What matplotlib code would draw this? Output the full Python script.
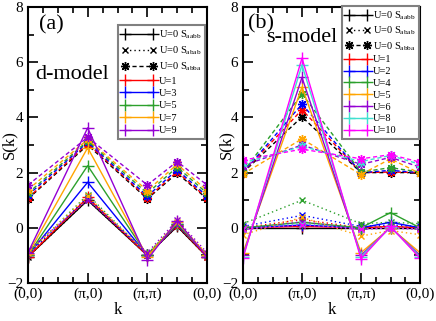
import matplotlib
matplotlib.use("Agg")
import matplotlib.pyplot as plt
from matplotlib.ticker import MultipleLocator

plt.rcParams['font.family'] = ['Liberation Serif', 'DejaVu Serif']
plt.rcParams['mathtext.fontset'] = 'custom'
plt.rcParams['mathtext.rm'] = 'Liberation Serif'

# ---------------- data ----------------
k_pos = [0, 1, 2, 2.5, 3]
k_ticks = [0, 1, 2, 3]
k_labels = ['(0,0)', '(π,0)', '(π,π)', '(0,0)']

# panel (a): d-model
a_U = [0, 1, 3, 5, 7, 9]
a_colors = ['black', '#ff0000', '#0000ff', '#2ca02c', '#ffa500', '#9400d3']
a_aabb = [
    [-1.05, 1.00, -1.00, 0.05, -1.05],
    [-1.05, 1.10, -1.00, 0.10, -1.05],
    [-1.00, 1.65, -1.00, 0.12, -1.00],
    [-1.00, 2.25, -1.00, 0.15, -1.00],
    [-0.95, 2.90, -1.05, 0.20, -1.00],
    [-0.90, 3.62, -1.15, 0.25, -1.05],
]
a_abab = [
    [-1.05, 1.00, -1.00, 0.05, -1.05],
    [-1.00, 1.05, -1.00, 0.08, -1.05],
    [-0.95, 1.10, -0.98, 0.12, -1.00],
    [-0.92, 1.20, -0.95, 0.18, -0.98],
    [-0.90, 1.15, -0.95, 0.22, -0.95],
    [-0.82, 1.00, -0.90, 0.28, -0.90],
]
a_abba = [
    [1.05, 3.00, 1.05, 1.98, 1.05],
    [1.08, 3.05, 1.08, 2.03, 1.08],
    [1.18, 3.10, 1.15, 2.10, 1.15],
    [1.25, 3.15, 1.25, 2.20, 1.25],
    [1.38, 3.20, 1.35, 2.30, 1.35],
    [1.55, 3.28, 1.55, 2.40, 1.55],
]

# panel (b): s-model
b_U = [0, 1, 2, 4, 5, 6, 8, 10]
b_colors = ['black', '#ff0000', '#0000ff', '#2ca02c', '#ffa500', '#9400d3',
            '#40e0d0', '#ff00ff']
b_aabb = [
    [0.00, 0.00, 0.00, 0.00, 0.00],
    [0.00, 0.05, 0.00, 0.05, 0.00],
    [0.00, 0.10, 0.00, 0.20, 0.00],
    [0.00, 0.20, 0.00, 0.55, 0.00],
    [-0.90, 5.10, -0.90, 0.00, -0.90],
    [-1.00, 5.45, -1.00, 0.02, -1.00],
    [-1.05, 5.90, -1.05, 0.03, -1.05],
    [-1.10, 6.15, -1.12, 0.05, -1.10],
]
b_abab = [
    [0.00, 0.10, 0.00, 0.00, 0.00],
    [0.00, 0.30, 0.00, 0.05, 0.00],
    [0.05, 0.45, 0.05, 0.10, 0.05],
    [0.15, 1.00, 0.15, 0.20, 0.15],
    [-0.25, 0.38, -0.30, -0.10, -0.25],
    [-0.05, 0.22, -0.05, 0.00, -0.05],
    [-0.05, 0.15, -0.05, 0.00, -0.05],
    [-0.05, 0.10, -0.05, 0.00, -0.05],
]
b_abba = [
    [2.00, 4.02, 2.00, 2.00, 2.00],
    [2.00, 4.28, 2.00, 2.02, 2.00],
    [2.00, 4.48, 2.00, 2.08, 2.00],
    [2.02, 4.85, 2.02, 2.18, 2.02],
    [1.95, 3.22, 1.93, 2.50, 1.97],
    [2.25, 3.00, 2.30, 2.55, 2.20],
    [2.35, 2.95, 2.40, 2.62, 2.30],
    [2.45, 2.85, 2.50, 2.65, 2.38],
]

STAR = (8, 2, 0)

fig = plt.figure(figsize=(4.36, 3.21), dpi=100)
axA = fig.add_axes([28/436, 1-283/321, 179/436, 276/321])
axB = fig.add_axes([243/436, 1-283/321, 177/436, 276/321])


def draw_panel(ax, Us, colors, aabb, abab, abba, ylab_x):
    for i, (u, c) in enumerate(zip(Us, colors)):
        if u == 0:
            l1 = 'U=0 S$_\\mathrm{aabb}$'
            l2 = 'U=0 S$_\\mathrm{abab}$'
            l3 = 'U=0 S$_\\mathrm{abba}$'
        else:
            l1 = 'U=%d' % u
            l2 = None
            l3 = None
        ax.plot(k_pos, aabb[i], color=c, ls='-', lw=1.0, marker='+',
                ms=8, mew=1.0, label=l1)
        ax.plot(k_pos, abab[i], color=c, ls=(0, (1, 2.2)), lw=1.0, marker='x',
                ms=5, mew=1.0, label=l2)
        ax.plot(k_pos, abba[i], color=c, ls=(0, (3, 2)), lw=1.0, marker=STAR,
                ms=6.5, mew=1.0, label=l3)
    ax.set_xlim(0, 3)
    ax.set_ylim(-2, 8)
    ax.set_xticks(k_ticks)
    ax.set_xticklabels(k_labels)
    ax.xaxis.set_minor_locator(MultipleLocator(0.25))
    ax.set_yticks([-2, 0, 2, 4, 6, 8])
    ax.yaxis.set_minor_locator(MultipleLocator(1))
    ax.tick_params(which='both', direction='in', top=True, right=True,
                   labelsize=11, width=1.2)
    ax.tick_params(which='major', length=7)
    ax.tick_params(which='minor', length=4)
    for s in ax.spines.values():
        s.set_linewidth(1.5)
    ax.set_xlabel('k', fontsize=12, va='center')
    ax.xaxis.set_label_coords(0.5, -0.098)
    ax.set_ylabel('S(k)', fontsize=12, va='center')
    ax.yaxis.set_label_coords(ylab_x, 0.5)


draw_panel(axA, a_U, a_colors, a_aabb, a_abab, a_abba, -0.106)
draw_panel(axB, b_U, b_colors, b_aabb, b_abab, b_abba, -0.096)

for ax, anchor, hl, ls in ((axA, (0.99, 0.935), 3.3, 0.3),
                           (axB, (0.995, 1.005), 2.3, 0.24)):
    leg = ax.legend(loc='upper right', bbox_to_anchor=anchor, borderaxespad=0,
                    fontsize=7.5, labelspacing=ls, handlelength=hl,
                    handletextpad=0.3, borderpad=0.35, fancybox=False,
                    framealpha=1, edgecolor='#808080', numpoints=2)
    leg.get_frame().set_linewidth(1.5)

axA.text(0.06, 0.935, '(a)', transform=axA.transAxes, fontsize=16,
         va='center', ha='left')
axA.text(0.04, 0.754, 'd-model', transform=axA.transAxes, fontsize=16,
         va='center', ha='left')
axB.text(0.03, 0.94, '(b)', transform=axB.transAxes, fontsize=16,
         va='center', ha='left')
axB.text(0.13, 0.888, 's-model', transform=axB.transAxes, fontsize=16,
         va='center', ha='left')

fig.savefig('out.png', dpi=100)
